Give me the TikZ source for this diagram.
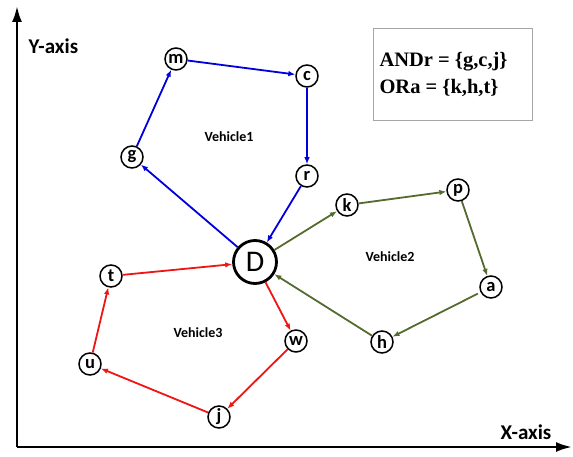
\documentclass[tikz,border=0pt]{standalone}
\usepackage{fontspec}
\setmainfont{Carlito}
\newfontfamily\serifb{Liberation Serif}
\usetikzlibrary{arrows.meta}
\definecolor{vblue}{RGB}{0,0,220}
\definecolor{vred}{RGB}{240,20,20}
\definecolor{vgreen}{RGB}{84,107,47}
\tikzset{
  pt/.style={circle,draw=black,line width=1.5pt,fill=white,minimum size=22pt,inner sep=0pt,font=\fontsize{18.5}{18.5}\selectfont\bfseries},
  depot/.style={circle,draw=black,line width=2.8pt,fill=white,minimum size=43pt,inner sep=0pt,font=\fontsize{30}{30}\selectfont},
  edge/.style={line width=1.8pt,-{Latex[length=7pt,width=5.5pt]}},
  veh/.style={font=\fontsize{14}{14}\selectfont\bfseries},
  axis/.style={line width=2.4pt,-{Latex[length=16pt,width=10pt]}}
}
\begin{document}
\begin{tikzpicture}[x=1pt,y=-1pt]
\useasboundingbox (0,0) rectangle (573,457);
% axes
\coordinate (O) at (17,447);
\coordinate (Y) at (17,6);
\coordinate (X) at (572,447);
\draw[axis] (O) -- (Y);
\draw[axis] (O) -- (X);
\node[font=\fontsize{21}{21}\selectfont\bfseries,anchor=west] (ylab) at (25,46) {Y-axis};
\node[font=\fontsize{21}{21}\selectfont\bfseries] (xlab) at (526,432) {X-axis};
% box
\node[draw=gray!70,line width=0.8pt,minimum width=159pt,minimum height=92pt,anchor=north west] (box) at (373,28) {};
\node[anchor=west,font=\serifb\fontsize{20.5}{20.5}\selectfont\bfseries] (l1) at (376,62) {ANDr = \{g,c,j\}};
\node[anchor=west,font=\serifb\fontsize{20.5}{20.5}\selectfont\bfseries] (l2) at (376,88) {ORa = \{k,h,t\}};
% nodes
\node[depot] (D) at (255,262) {D};
\node[pt] (m) at (176,59) {m};
\node[pt] (c) at (307,76) {c};
\node[pt] (r) at (307,176) {r};
\node[pt] (g) at (132,157) {g};
\node[pt] (k) at (347,205) {k};
\node[pt] (p) at (458,190) {p};
\node[pt] (a) at (491,287) {a};
\node[pt] (h) at (382,342) {h};
\node[pt] (w) at (296,341) {w};
\node[pt] (j) at (219,417) {j};
\node[pt] (u) at (90,364) {u};
\node[pt] (t) at (111,276) {t};
\node[veh] (v1) at (229,137) {Vehicle1};
\node[veh] (v2) at (390,257) {Vehicle2};
\node[veh] (v3) at (198,333) {Vehicle3};
% vehicle 1
\draw[edge,vblue] (D) -- (g);
\draw[edge,vblue] (g) -- (m);
\draw[edge,vblue] (m) -- (c);
\draw[edge,vblue] (c) -- (r);
\draw[edge,vblue] (r) -- (D);
% vehicle 2
\draw[edge,vgreen] (D) -- (k);
\draw[edge,vgreen] (k) -- (p);
\draw[edge,vgreen] (p) -- (a);
\draw[edge,vgreen,shorten <=3pt] (a) -- (h);
\draw[edge,vgreen] (h) -- (D);
% vehicle 3
\draw[edge,vred] (D) -- (w);
\draw[edge,vred] (w) -- (j);
\draw[edge,vred] (j) -- (u);
\draw[edge,vred] (u) -- (t);
\draw[edge,vred] (t) -- (D);
\end{tikzpicture}
\end{document}
